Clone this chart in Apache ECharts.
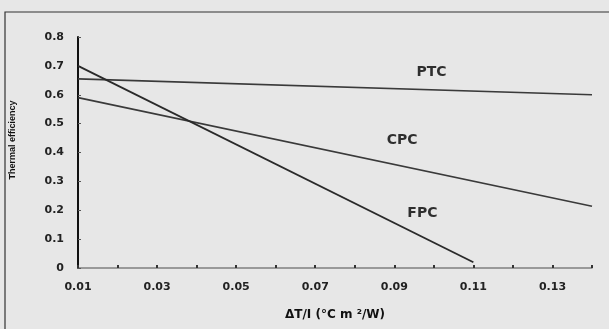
<!DOCTYPE html>
<html><head><meta charset="utf-8">
<script src="https://cdn.jsdelivr.net/npm/echarts@6/dist/echarts.min.js"></script>
<style>html,body{margin:0;padding:0;background:#e7e7e7}#c{width:609px;height:329px}</style>
</head><body><div id="c"></div>
<script>
const ptc = [[0.01, 0.655], [0.14, 0.60]];
const cpc = [[0.01, 0.59], [0.14, 0.214]];
const fpc = [[0.01, 0.70], [0.11, 0.02]];
const labelNames = ['PTC', 'CPC', 'FPC'];
const labelPos = [[0.0994, 0.676], [0.092, 0.441], [0.0971, 0.19]];
const yTitle = 'Thermal efficiency';
const xTitle = 'ΔT/I (°C m ²/W)';

const chart = echarts.init(document.getElementById('c'));
const lineStyle = {color: '#3a3a3a', width: 1.6};
const tickFont = {color: '#222', fontFamily: 'DejaVu Sans', fontWeight: 'bold', fontSize: 11};
chart.setOption({
  backgroundColor: '#e7e7e7',
  animation: false,
  graphic: [
    {type: 'rect', shape: {x: 5, y: 12, width: 700, height: 400},
      style: {fill: 'none', stroke: '#333', lineWidth: 1.2}, silent: true},
    {type: 'text', x: 13, y: 140, rotation: Math.PI / 2,
      style: {text: yTitle, fill: '#111', font: 'bold 9px "Liberation Sans"', textAlign: 'center', textVerticalAlign: 'middle'}}
  ],
  grid: {left: 78, right: 17, top: 37, bottom: 61},
  xAxis: {type: 'value', min: 0.01, max: 0.14, interval: 0.01,
    axisLine: {lineStyle: {color: '#808080', width: 1.5}},
    axisTick: {show: true, inside: true, length: 3, lineStyle: {color: '#333', width: 2}},
    splitLine: {show: false},
    axisLabel: Object.assign({margin: 14,
      formatter: v => (Math.round(v * 100) % 2 === 1 && Math.round(v*100) < 14) ? v.toFixed(2) : ''}, tickFont),
    name: xTitle, nameLocation: 'middle', nameGap: 41,
    nameTextStyle: {color: '#111', fontFamily: 'DejaVu Sans', fontWeight: 'bold', fontSize: 12}
  },
  yAxis: {type: 'value', min: 0, max: 0.8, interval: 0.1,
    axisLine: {show: true, lineStyle: {color: '#111', width: 2}},
    axisTick: {show: true, inside: true, length: 3, lineStyle: {color: '#555'}},
    splitLine: {show: false},
    axisLabel: Object.assign({margin: 14, formatter: v => v === 0 ? '0' : v.toFixed(1)}, tickFont)
  },
  series: [
    {type: 'line', data: ptc, symbol: 'none', lineStyle},
    {type: 'line', data: cpc, symbol: 'none', lineStyle},
    {type: 'line', data: fpc, symbol: 'none', lineStyle: {color: '#2a2a2a', width: 1.8}},
    {type: 'scatter', symbolSize: 0,
      data: labelNames.map((n, i) => ({name: n, value: labelPos[i]})),
      label: {show: true, position: 'inside', formatter: '{b}', color: '#000',
        fontFamily: 'DejaVu Sans', fontWeight: 'bold', fontSize: 14}}
  ]
});
</script></body></html>
